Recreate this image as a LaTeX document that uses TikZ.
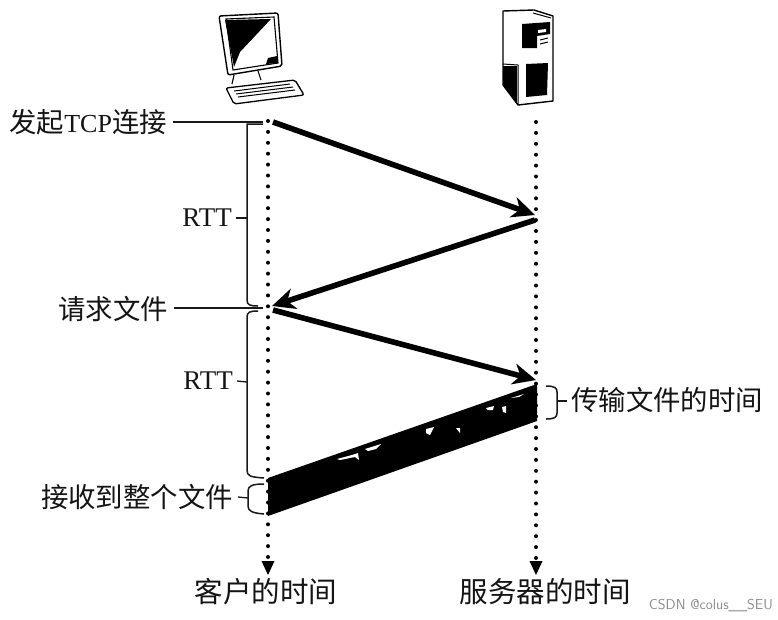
\documentclass[tikz,border=0pt]{standalone}
\usepackage{fontspec}
\setmainfont{Liberation Serif}
\newfontfamily\cjk{Noto Sans CJK SC}
\usetikzlibrary{arrows.meta}
\tikzset{
  x=1pt,y=-1pt,
  lab/.style={font=\cjk\fontsize{27.4}{30}\selectfont,inner sep=0pt,text=black!92},
  timelab/.style={font=\cjk\fontsize{28.5}{32}\selectfont,inner sep=0pt,text=black!92},
  rttlab/.style={font=\fontsize{27}{30}\selectfont,inner sep=0pt,text=black!92},
  timeline/.style={line width=4pt,dash pattern=on 0pt off 10.9pt,line cap=round},
  arrowtip/.style={fill=black},
  msg/.style={line width=5.6pt,-{Stealth[length=23pt,width=21pt,inset=7pt]}},
  brace/.style={line width=1.5pt,black!90},
  tick/.style={line width=1.3pt,black!90},
}
\begin{document}
\begin{tikzpicture}
\useasboundingbox (0,0) rectangle (778,619);
\fill[white] (0,0) rectangle (778,619);
% anchors
\coordinate (ctop) at (268,121);
\coordinate (cend) at (268,558);
\coordinate (stop) at (536,122);
\coordinate (send) at (536,558);
\coordinate (c1) at (273,122);
\coordinate (s1) at (535,215);
\coordinate (s1b) at (535,220);
\coordinate (c2) at (272,306);
\coordinate (c2b) at (273,310);
\coordinate (s2) at (536,380);
% timelines
\draw[timeline] (ctop) -- (cend);
\draw[timeline] (stop) -- (send);
\fill[arrowtip] (261.5,561) -- (274.5,561) -- (268,575) -- cycle;
\fill[arrowtip] (529.5,561) -- (542.5,561) -- (536,575) -- cycle;
% messages
\draw[msg] (c1) -- (s1);
\draw[msg] (s1b) -- (c2);
\draw[msg] (c2b) -- (s2);
% file band
\fill[black] (268,478) -- (537,384) -- (537,421) -- (268,516) -- cycle;
\fill[white] (337,459) -- (352,455) -- (358,453) -- (359,460) -- (355,457) -- (340,460) -- cycle;
\fill[white] (365,449) -- (381,444) -- (376,449) -- (368,451) -- cycle;
\fill[white] (426,429) -- (434,427) -- (430,435) -- (426,433) -- cycle;
\fill[white] (456,428) -- (460,428) -- (460,433) -- cycle;
\fill[white] (486,408) -- (494,406) -- (493,410) -- (488,410) -- cycle;
\fill[white] (502,407) -- (506,406) -- (506,413) -- (503,412) -- cycle;
\fill[white] (511,398) -- (524,394) -- (519,397) -- cycle;
% client computer
\draw[line width=1.4pt,fill=white,rounded corners=2pt] (219,16) -- (278,13) -- (282,66) -- (228,75) -- cycle;
\fill[black] (225,20) -- (271,19) -- (240,52) -- (234,67) -- cycle;
\fill[black] (268,58) -- (277,56) -- (278,63) -- (266,64) -- cycle;
\draw[line width=1.1pt] (226,19) -- (274,17) -- (278,63) -- (233,70) -- cycle;
\draw[line width=1.1pt] (234,75) -- (232,84) (258,71) -- (261,80);
\draw[line width=1.3pt,fill=white,rounded corners=2pt] (226,88) -- (295,80) -- (304,95) -- (234,104) -- cycle;
\draw[line width=1pt] (234,91) -- (290,84) (236,94) -- (293,87) (238,97) -- (295,90);
% server
\draw[line width=1.4pt,fill=white,line join=round] (503,11) -- (534,10) -- (553,16) -- (553,101) -- (518,105) -- (503,85) -- cycle;
\draw[line width=1pt] (533,13) -- (551,18) (503,64) -- (518,65) -- (518,104);
\fill[black] (503,66) -- (517,66) -- (517,103) -- (503,85) -- cycle;
\fill[black] (526,64) -- (548,63) -- (547,95) -- (526,97) -- cycle;
\fill[black] (522,24) -- (550,22) -- (550,34) -- (537,36) -- (537,48) -- (522,48) -- cycle;
\fill[white] (538,30) -- (546,29) -- (546,32) -- (538,33) -- cycle;
\draw[line width=1pt] (540,40) -- (548,38) (540,44) -- (548,42);
% labels
\node[lab,anchor=east] (start) at (167,122) {发起{\rmfamily\fontsize{26}{30}\selectfont TCP}连接};
\node[lab,anchor=east] (req) at (168,309) {请求文件};
\node[rttlab,anchor=east] (rtta) at (232,218) {RTT};
\node[rttlab,anchor=east] (rttb) at (233,381) {RTT};
\node[lab,anchor=east] (recv) at (233,497) {接收到整个文件};
\node[lab,anchor=west] (xfer) at (571,400) {传输文件的时间};
\node[timelab] (ctime) at (266,592) {客户的时间};
\node[timelab] (stime) at (545,592) {服务器的时间};
\node[font=\fontfamily{lmr}\sffamily\fontsize{14.3}{16}\selectfont,text=black!45,anchor=east,inner sep=0pt] (mark) at (773,606) {CSDN @colus\_\_SEU};
% braces and leaders
\coordinate (starte) at (263,122);
\coordinate (reqe) at (263,308);
\draw[tick] (start.east) ++(6,0) -- (starte);
\draw[tick] (req.east) ++(6,-1) -- (reqe);
\draw[brace] (263,124) -- (247,124) -- (247,300) .. controls (247,305) and (250,306) .. (258,306);
\draw[brace] (258,311) .. controls (250,311) and (247,312) .. (247,317) -- (247,470) .. controls (247,476) and (250,477) .. (264,478);
\draw[brace] (264,484) .. controls (252,484) and (248,486) .. (248,491) -- (248,506) .. controls (248,511) and (252,513) .. (264,514);
\draw[brace] (546,386) .. controls (555,386) and (557,388) .. (557,392) -- (557,413) .. controls (557,417) and (555,419) .. (546,419);
\coordinate (braceA) at (247,218);
\coordinate (braceB) at (247,382);
\coordinate (braceC) at (248,498);
\coordinate (braceD) at (557,401);
\coordinate (xferleft) at (567,401);
\draw[tick] (rtta.east) ++(4,0) -- (braceA);
\draw[tick] (rttb.east) ++(4,0) -- (braceB);
\draw[tick] (recv.east) ++(5,0) -- (braceC);
\draw[tick] (braceD) -- (xferleft);
\end{tikzpicture}
\end{document}
